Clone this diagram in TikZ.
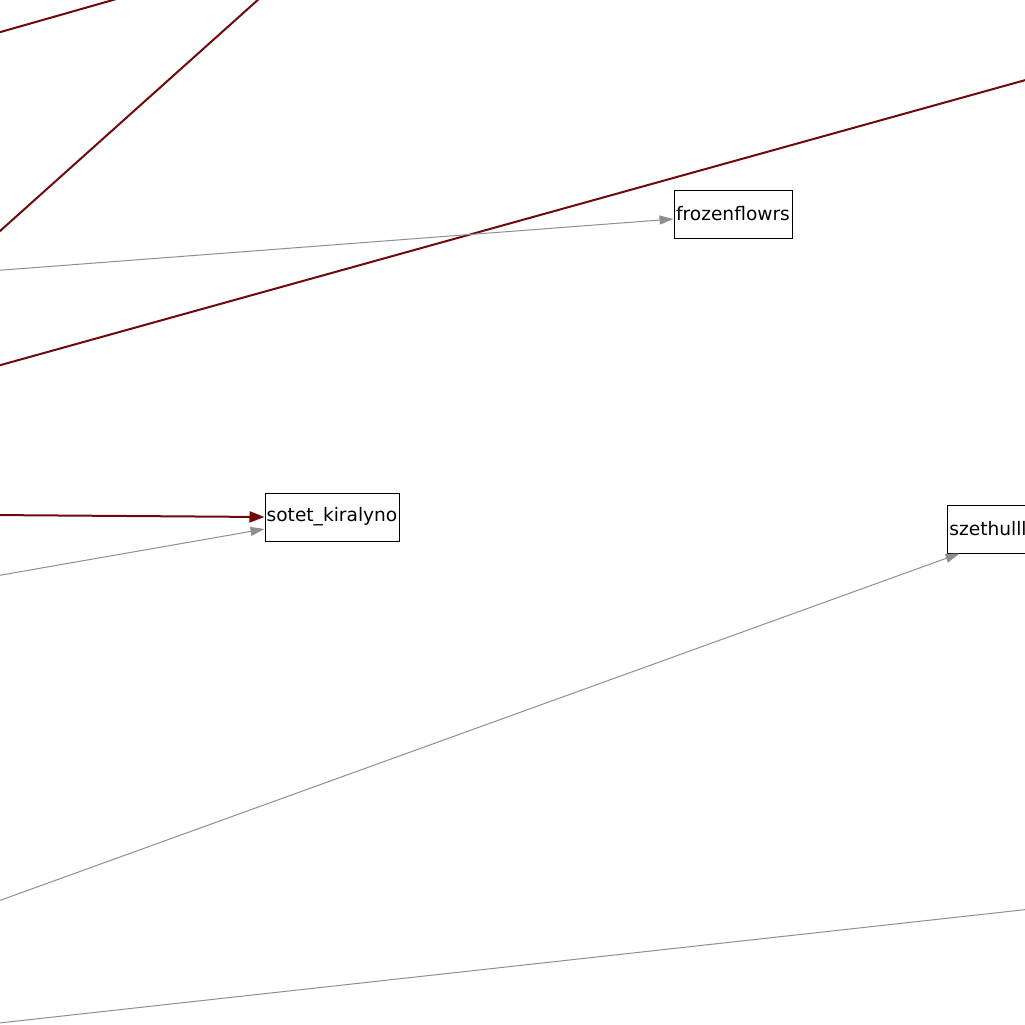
\documentclass[tikz,border=0pt]{standalone}
\usepackage{fontspec}
\setmainfont{DejaVu Sans}
\usetikzlibrary{arrows.meta}
\definecolor{darkred}{HTML}{6E0A0A}
\definecolor{edgegray}{HTML}{8F8F8F}
\tikzset{
  box/.style={draw=black, line width=1pt, minimum height=48pt, inner sep=1pt, font=\fontsize{18.6}{20}\selectfont, anchor=center},
  rededge/.style={draw=darkred, line width=2pt},
  grayedge/.style={draw=edgegray, line width=1pt},
  redarrow/.style={rededge, -{Triangle[length=15pt,width=11pt]}},
  grayarrow/.style={grayedge, -{Triangle[length=14pt,width=9pt]}},
}
\begin{document}
\begin{tikzpicture}[x=1pt,y=-1pt]
\useasboundingbox (0,0) rectangle (1025,1025);
\fill[white] (0,0) rectangle (1025,1025);
\clip (0,0) rectangle (1025,1025);
% nodes
\node[box, minimum width=118pt] (frozen) at (733,214) {frozenflowrs};
\node[box, minimum width=134pt] (sotet) at (332,517) {sotet\_kiralyno};
\node[box, minimum width=82pt] (szet) at (988,529) {szethulll};
% connector ends on nodes
\coordinate (frozenin) at ([yshift=-5pt]frozen.west);
\coordinate (sotetin) at ([yshift=-12pt]sotet.west);
\coordinate (szetin) at ([xshift=13pt]szet.south west);
% free ends
\coordinate (r1a) at (-10,35);
\coordinate (r1b) at (120,-2);
\coordinate (r2a) at (-10,240);
\coordinate (r2b) at (260,-2);
\coordinate (r3a) at (-10,368);
\coordinate (r3b) at (1040,76);
\coordinate (g1) at (-10,271);
\coordinate (r4) at (-10,515);
\coordinate (g2) at (-10,577);
\coordinate (g3) at (-10,904);
\coordinate (g4a) at (-10,1024);
\coordinate (g4b) at (1040,908);
% edges
\draw[rededge] (r1a) -- (r1b);
\draw[rededge] (r2a) -- (r2b);
\draw[rededge] (r3a) -- (r3b);
\draw[grayarrow] (g1) -- (frozenin);
\draw[redarrow] (r4) -- (sotet.west);
\draw[grayarrow] (g2) -- (sotetin);
\draw[grayarrow] (g3) -- (szetin);
\draw[grayedge] (g4a) -- (g4b);
\end{tikzpicture}
\end{document}
